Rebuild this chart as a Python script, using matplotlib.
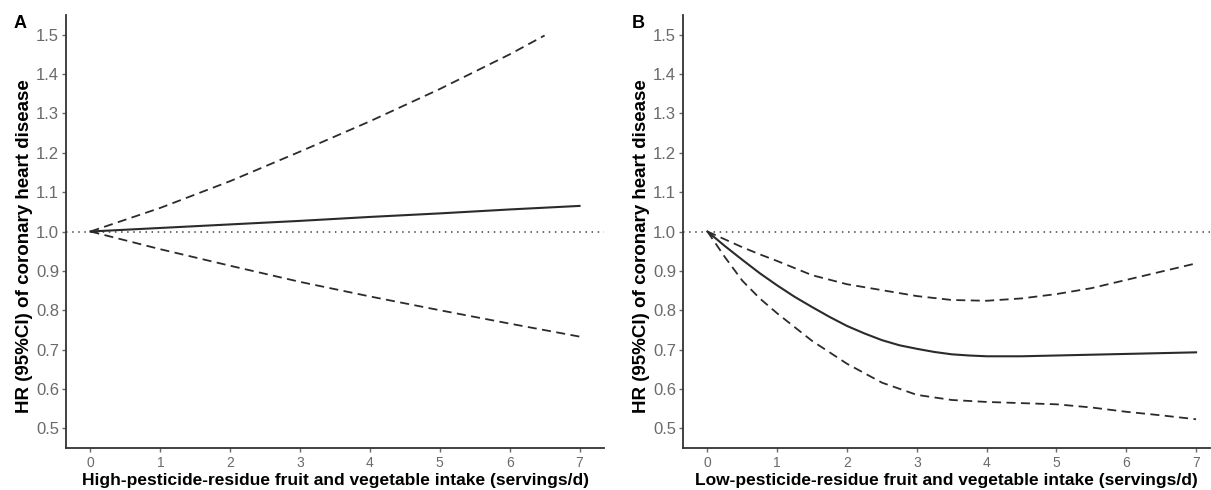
import numpy as np
import matplotlib
matplotlib.use("Agg")
import matplotlib.pyplot as plt

plt.rcParams['font.family'] = ['Liberation Sans', 'DejaVu Sans']

# panel A: high-pesticide-residue intake
x_a = [0, 1, 2, 3, 4, 5, 6, 7]
hr_a = [1.0, 1.009, 1.018, 1.027, 1.037, 1.046, 1.056, 1.065]
lo_a = [1.0, 0.955, 0.913, 0.872, 0.835, 0.800, 0.766, 0.733]
x_a_up = [0, 1, 2, 3, 4, 5, 6, 6.5]
up_a = [1.0, 1.060, 1.128, 1.203, 1.280, 1.362, 1.450, 1.498]

# panel B: low-pesticide-residue intake
x_b = [0, 0.25, 0.5, 0.75, 1, 1.25, 1.5, 1.75, 2, 2.25, 2.5, 2.75, 3, 3.25,
       3.5, 3.75, 4, 4.5, 5, 6, 7]
hr_b = [1.0, 0.963, 0.928, 0.894, 0.863, 0.834, 0.808, 0.783, 0.760, 0.741,
        0.724, 0.711, 0.702, 0.694, 0.688, 0.685, 0.683, 0.683, 0.685, 0.689, 0.693]
x_b_ci = [0, 0.25, 0.5, 0.75, 1, 1.5, 2, 2.5, 3, 3.5, 4, 4.5, 5, 5.5, 6, 6.5, 7]
up_b = [1.0, 0.980, 0.960, 0.942, 0.925, 0.889, 0.866, 0.851, 0.836, 0.826,
        0.824, 0.830, 0.841, 0.856, 0.877, 0.898, 0.919]
lo_b = [1.0, 0.935, 0.875, 0.830, 0.792, 0.722, 0.664, 0.616, 0.585, 0.572,
        0.567, 0.564, 0.561, 0.553, 0.542, 0.533, 0.523]

xticks = [0, 1, 2, 3, 4, 5, 6, 7]
yticks = [0.5, 0.6, 0.7, 0.8, 0.9, 1.0, 1.1, 1.2, 1.3, 1.4, 1.5]
ylab = "HR (95%CI) of coronary heart disease"

fig = plt.figure(figsize=(12.11, 4.9), dpi=100)
ax_a = fig.add_axes([66 / 1211, 42 / 490, 538 / 1211, 433 / 490])
ax_b = fig.add_axes([683 / 1211, 42 / 490, 527 / 1211, 433 / 490])

line_col = "#2b2b2b"
tick_col = "#6a6a6a"


def style(ax, xmax, ylab_x):
    ax.set_xlim(-0.35, xmax)
    ax.set_ylim(0.45, 1.55)
    ax.set_xticks(xticks)
    ax.set_yticks(yticks)
    ax.set_yticklabels(["%.1f" % v for v in yticks])
    for s in ["top", "right"]:
        ax.spines[s].set_visible(False)
    for s in ["left", "bottom"]:
        ax.spines[s].set_color("#333333")
        ax.spines[s].set_linewidth(1.3)
    ax.tick_params(axis="y", labelsize=12, colors=tick_col, length=3, width=1, pad=2)
    ax.tick_params(axis="x", labelsize=10, colors=tick_col, length=3, width=1, pad=3)
    ax.axhline(1.0, color="#444444", lw=1.1, ls=(0, (1, 3)))
    ax.set_ylabel(ylab, fontsize=13.5, fontweight="bold")
    ax.yaxis.set_label_coords(ylab_x, 0.466)
    ax.xaxis.set_label_coords(0.5, -0.058)


style(ax_a, 7.35, -0.061)
ax_a.plot(x_a, hr_a, color=line_col, lw=1.5)
ax_a.plot(x_a_up, up_a, color=line_col, lw=1.3, ls=(0, (5, 3)))
ax_a.plot(x_a, lo_a, color=line_col, lw=1.3, ls=(0, (5, 3)))
ax_a.set_xlabel("High-pesticide-residue fruit and vegetable intake (servings/d)",
                fontsize=12.5, fontweight="bold")

style(ax_b, 7.2, -0.062)
ax_b.plot(x_b, hr_b, color=line_col, lw=1.5)
ax_b.plot(x_b_ci, up_b, color=line_col, lw=1.3, ls=(0, (5, 3)))
ax_b.plot(x_b_ci, lo_b, color=line_col, lw=1.3, ls=(0, (5, 3)))
ax_b.set_xlabel("Low-pesticide-residue fruit and vegetable intake (servings/d)",
                fontsize=12.5, fontweight="bold")

fig.text(20 / 1211, 1 - 24 / 490, "A", fontsize=13, fontweight="bold", ha="center", va="center")
fig.text(638 / 1211, 1 - 24 / 490, "B", fontsize=13, fontweight="bold", ha="center", va="center")

fig.savefig("out.png", dpi=100)
